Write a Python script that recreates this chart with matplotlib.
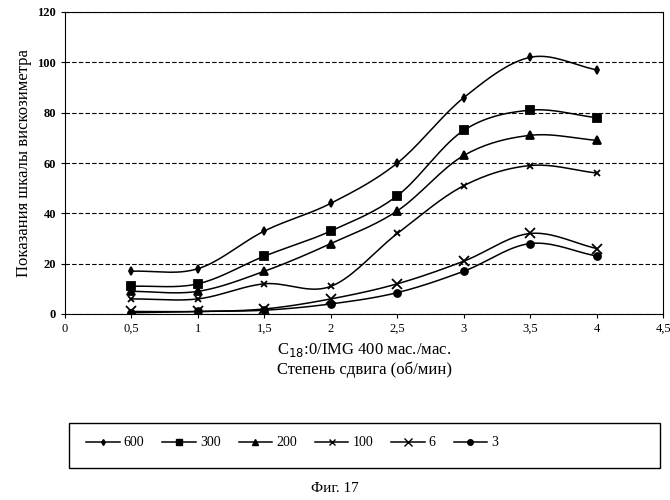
import numpy as np
import matplotlib
matplotlib.use("Agg")
import matplotlib.pyplot as plt
from matplotlib.lines import Line2D
from matplotlib.patches import Rectangle

plt.rcParams["font.family"] = "Liberation Serif"

shear = [0.5, 1.0, 1.5, 2.0, 2.5, 3.0, 3.5, 4.0]
series_names = ["600", "300", "200", "100", "6", "3"]
v600 = [17, 18, 33, 44, 60, 86, 102, 97]
v300 = [11, 12, 23, 33, 47, 73, 81, 78]
v200 = [9, 9, 17, 28, 41, 63, 71, 69]
v100 = [6, 6, 12, 11, 32, 51, 59, 56]
v6 = [1, 1, 2, 6, 12, 21, 32, 26]
v3 = [0.5, 1, 1.5, 4, 8.5, 17, 28, 23]
markers = ["d", "s", "^", "x", "x", "o"]
msizes = [4, 6, 6, 5, 7, 5]


def smooth(x, y, n=20):
    # Catmull-Rom like Excel smoothed lines
    x = np.asarray(x, float)
    y = np.asarray(y, float)
    px = np.concatenate([[2 * x[0] - x[1]], x, [2 * x[-1] - x[-2]]])
    py = np.concatenate([[2 * y[0] - y[1]], y, [2 * y[-1] - y[-2]]])
    xs, ys = [], []
    t = np.linspace(0, 1, n)
    for i in range(1, len(px) - 2):
        for p, out in ((px, xs), (py, ys)):
            p0, p1, p2, p3 = p[i - 1], p[i], p[i + 1], p[i + 2]
            out.extend(0.5 * (2 * p1 + (-p0 + p2) * t + (2 * p0 - 5 * p1 + 4 * p2 - p3) * t ** 2
                              + (-p0 + 3 * p1 - 3 * p2 + p3) * t ** 3))
    return xs, ys


fig = plt.figure(figsize=(6.7, 5), dpi=100)
ax = fig.add_axes([0.097, 0.372, 0.893, 0.604])

handles = []
for vals, name, m, ms in zip([v600, v300, v200, v100, v6, v3], series_names, markers, msizes):
    sx, sy = smooth(shear, vals)
    ax.plot(sx, sy, color="black", lw=1.1)
    ax.plot(shear, vals, ls="none", marker=m, ms=ms, color="black", mew=1.3)
    handles.append(Line2D([], [], color="black", lw=1.1, marker=m, ms=ms - 1))

ax.set_xlim(0, 4.5)
ax.set_ylim(0, 120)
ax.set_xticks(np.arange(0, 4.51, 0.5))
ax.set_xticklabels(["0", "0,5", "1", "1,5", "2", "2,5", "3", "3,5", "4", "4,5"], fontsize=9)
ax.set_yticks(range(0, 121, 20))
ax.tick_params(axis="y", labelsize=9, length=3)
ax.tick_params(axis="x", length=3)
for lbl in ax.get_yticklabels():
    lbl.set_fontweight("bold")
ax.grid(axis="y", ls=(0, (4, 2)), color="black", lw=0.8)
ax.set_ylabel("Показания шкалы вискозиметра", fontsize=12)
ax.set_xlabel("C$_{18}$:0/IMG 400 мас./мас.\nСтепень сдвига (об/мин)", fontsize=12)

fig.patches.append(Rectangle((0.103, 0.064), 0.882, 0.09, transform=fig.transFigure,
                             fill=False, edgecolor="black", lw=1.0))
fig.legend(handles, series_names, loc="upper left", bbox_to_anchor=(0.11, 0.152),
           ncol=6, frameon=False, fontsize=10, handlelength=2.4, handletextpad=0.3,
           columnspacing=1.3)
fig.text(0.5, 0.015, "Фиг. 17", ha="center", fontsize=11)

fig.savefig("out.png", dpi=100)
